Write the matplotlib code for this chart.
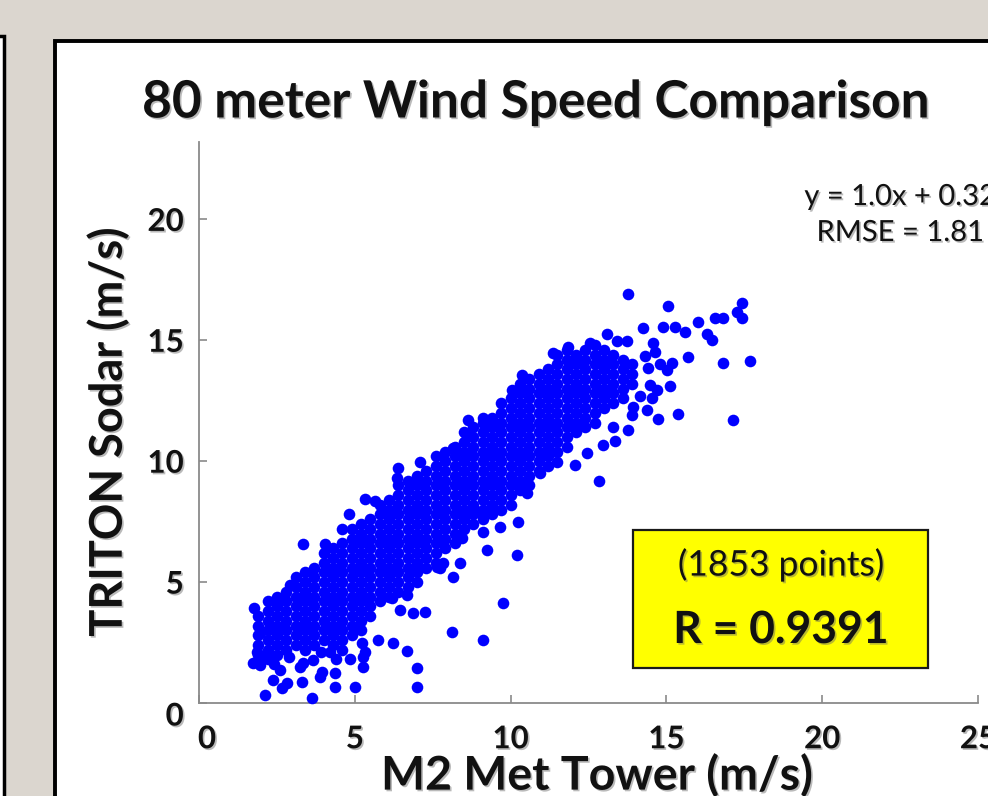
import matplotlib
matplotlib.use("Agg")
import matplotlib.pyplot as plt
from matplotlib.patches import Rectangle
import matplotlib.patheffects as pe
import matplotlib.transforms as mtransforms

plt.rcParams['font.family'] = ['Lato', 'DejaVu Sans']

# ---------------- data ----------------
title_text = "80 meter Wind Speed Comparison"
x_label = "M2 Met Tower (m/s)"
y_label = "TRITON Sodar (m/s)"
x_ticks = [0, 5, 10, 15, 20, 25]
y_ticks = [0, 5, 10, 15, 20]
fit_slope = 1.0
fit_intercept = 0.32
rmse = 1.81
n_points = 1853
r_value = 0.9391

# dense core of the cloud: M2 value per column, TRITON values in that column
core_m2 = [1.9, 2.2, 2.5, 2.8, 3.1, 3.4, 3.7, 4.0, 4.3, 4.6, 4.9, 5.2, 5.5, 5.8,
           6.1, 6.4, 6.7, 7.0, 7.3, 7.6, 7.9, 8.2, 8.5, 8.8, 9.1, 9.4, 9.7, 10.0,
           10.3, 10.6, 10.9, 11.2, 11.5, 11.8, 12.1, 12.4, 12.7, 13.0, 13.3, 13.6, 13.9]
core_triton = [
    [2.0, 2.4, 2.8, 3.2, 3.6],
    [1.8, 2.2, 2.6, 3.0, 3.4, 3.8, 4.2],
    [2.0, 2.4, 2.8, 3.2, 3.6, 4.0, 4.4],
    [2.2, 2.6, 3.0, 3.4, 3.8, 4.2, 4.6],
    [2.4, 2.8, 3.2, 3.6, 4.0, 4.4, 4.8, 5.2],
    [2.2, 2.6, 3.0, 3.4, 3.8, 4.2, 4.6, 5.0, 5.4],
    [2.4, 2.8, 3.2, 3.6, 4.0, 4.4, 4.8, 5.2, 5.6],
    [2.6, 3.0, 3.4, 3.8, 4.2, 4.6, 5.0, 5.4, 5.8, 6.2],
    [2.4, 2.8, 3.2, 3.6, 4.0, 4.4, 4.8, 5.2, 5.6, 6.0, 6.4],
    [2.6, 3.0, 3.4, 3.8, 4.2, 4.6, 5.0, 5.4, 5.8, 6.2, 6.6],
    [2.8, 3.2, 3.6, 4.0, 4.4, 4.8, 5.2, 5.6, 6.0, 6.4, 6.8, 7.2],
    [3.0, 3.4, 3.8, 4.2, 4.6, 5.0, 5.4, 5.8, 6.2, 6.6, 7.0, 7.4],
    [3.6, 4.0, 4.4, 4.8, 5.2, 5.6, 6.0, 6.4, 6.8, 7.2, 7.6],
    [4.2, 4.6, 5.0, 5.4, 5.8, 6.2, 6.6, 7.0, 7.4, 7.8, 8.2],
    [4.4, 4.8, 5.2, 5.6, 6.0, 6.4, 6.8, 7.2, 7.6, 8.0, 8.4],
    [4.6, 5.0, 5.4, 5.8, 6.2, 6.6, 7.0, 7.4, 7.8, 8.2, 8.6, 9.0],
    [4.8, 5.2, 5.6, 6.0, 6.4, 6.8, 7.2, 7.6, 8.0, 8.4, 8.8, 9.2],
    [5.0, 5.4, 5.8, 6.2, 6.6, 7.0, 7.4, 7.8, 8.2, 8.6, 9.0, 9.4],
    [5.6, 6.0, 6.4, 6.8, 7.2, 7.6, 8.0, 8.4, 8.8, 9.2, 9.6],
    [5.8, 6.2, 6.6, 7.0, 7.4, 7.8, 8.2, 8.6, 9.0, 9.4, 9.8, 10.2],
    [6.4, 6.8, 7.2, 7.6, 8.0, 8.4, 8.8, 9.2, 9.6, 10.0, 10.4],
    [6.6, 7.0, 7.4, 7.8, 8.2, 8.6, 9.0, 9.4, 9.8, 10.2, 10.6],
    [7.2, 7.6, 8.0, 8.4, 8.8, 9.2, 9.6, 10.0, 10.4, 10.8, 11.2],
    [7.4, 7.8, 8.2, 8.6, 9.0, 9.4, 9.8, 10.2, 10.6, 11.0, 11.4],
    [7.6, 8.0, 8.4, 8.8, 9.2, 9.6, 10.0, 10.4, 10.8, 11.2, 11.6],
    [7.8, 8.2, 8.6, 9.0, 9.4, 9.8, 10.2, 10.6, 11.0, 11.4, 11.8],
    [8.0, 8.4, 8.8, 9.2, 9.6, 10.0, 10.4, 10.8, 11.2, 11.6, 12.0, 12.4],
    [8.2, 8.6, 9.0, 9.4, 9.8, 10.2, 10.6, 11.0, 11.4, 11.8, 12.2, 12.6],
    [8.8, 9.2, 9.6, 10.0, 10.4, 10.8, 11.2, 11.6, 12.0, 12.4, 12.8, 13.2],
    [9.0, 9.4, 9.8, 10.2, 10.6, 11.0, 11.4, 11.8, 12.2, 12.6, 13.0, 13.4],
    [9.6, 10.0, 10.4, 10.8, 11.2, 11.6, 12.0, 12.4, 12.8, 13.2, 13.6],
    [9.8, 10.2, 10.6, 11.0, 11.4, 11.8, 12.2, 12.6, 13.0, 13.4, 13.8],
    [10.4, 10.8, 11.2, 11.6, 12.0, 12.4, 12.8, 13.2, 13.6, 14.0, 14.4],
    [10.6, 11.0, 11.4, 11.8, 12.2, 12.6, 13.0, 13.4, 13.8, 14.2, 14.6],
    [11.2, 11.6, 12.0, 12.4, 12.8, 13.2, 13.6, 14.0, 14.4],
    [11.4, 11.8, 12.2, 12.6, 13.0, 13.4, 13.8, 14.2, 14.6],
    [11.6, 12.0, 12.4, 12.8, 13.2, 13.6, 14.0, 14.4, 14.8],
    [12.2, 12.6, 13.0, 13.4, 13.8, 14.2, 14.6],
    [12.4, 12.8, 13.2, 13.6, 14.0, 14.4],
    [12.6, 13.0, 13.4, 13.8, 14.2],
    [13.2, 13.6, 14.0],
]

# scattered points around the core
outer_m2 = [
    1.78, 1.96, 1.86, 1.73, 1.96, 2.12, 3.63, 2.37, 2.66, 2.82, 3.30, 3.88, 3.95,
    4.36, 4.36, 5.00, 5.26, 5.26, 5.33, 5.23, 5.74, 6.23, 6.68, 7.00, 7.00, 7.25,
    6.87, 6.45, 6.19, 6.68, 7.64, 8.12, 9.11, 7.73, 7.83, 8.15, 8.38, 9.11, 9.24,
    8.44, 9.66, 10.24, 10.20, 9.76, 10.53, 10.94, 11.49,
    2.90, 3.35, 3.65, 3.90, 4.20, 4.40, 4.60, 4.85, 2.60, 3.25, 2.40, 2.10,
    3.34, 4.04, 4.60, 4.80, 5.33, 5.65, 6.35, 6.40, 7.09, 8.15, 8.60, 8.63, 9.11,
    10.05, 10.37, 11.36, 11.84, 12.55, 2.92, 9.00, 9.34,
    13.77, 15.05, 17.43, 17.27, 17.43, 16.56, 16.82, 16.00, 14.90, 15.28, 15.60,
    14.25, 13.10, 13.40, 13.74, 14.57, 14.63, 16.30, 16.46, 14.31, 15.69, 16.82,
    17.68, 14.41, 14.80, 15.18, 15.02, 15.12, 14.47, 14.70, 14.15, 14.54, 13.93,
    13.90, 14.38, 14.73, 15.37, 17.14, 13.77, 13.29, 13.35, 12.97, 12.45, 12.07,
    12.84,
]
outer_triton = [
    3.93, 2.90, 2.11, 1.66, 1.57, 0.33, 0.21, 0.95, 0.62, 0.83, 0.87, 1.08, 1.28,
    1.24, 0.66, 0.66, 1.49, 1.90, 2.11, 2.48, 2.60, 2.48, 2.15, 1.45, 0.66, 3.77,
    3.73, 3.85, 4.35, 4.47, 5.63, 2.94, 2.60, 5.59, 5.80, 5.22, 5.80, 7.08, 6.34,
    6.83, 7.29, 7.50, 6.13, 4.14, 8.70, 9.52, 9.98,
    1.90, 1.65, 1.78, 2.10, 2.10, 1.80, 2.20, 1.80, 1.37, 1.50, 1.60, 1.90,
    6.58, 6.58, 7.20, 7.80, 8.45, 8.36, 9.30, 9.70, 9.98, 10.56, 11.10, 11.70, 11.80,
    12.96, 13.58, 14.49, 14.74, 14.90, 4.89, 7.90, 8.00,
    16.90, 16.40, 16.56, 16.19, 15.94, 15.94, 15.94, 15.74, 15.53, 15.57, 15.36,
    15.49, 15.24, 14.95, 14.95, 14.90, 14.53, 15.24, 15.03, 14.33, 14.29, 14.08,
    14.16, 13.87, 14.00, 14.08, 13.79, 13.13, 13.17, 12.96, 12.71, 12.63, 12.26,
    11.93, 12.13, 11.76, 11.97, 11.72, 11.30, 11.43, 10.85, 10.68, 10.35, 9.86,
    9.19,
]

# ---------------- layout ----------------
W, H = 988, 796
fig = plt.figure(figsize=(W / 100, H / 100), dpi=100, facecolor='#dbd6cf')


def fx(px):
    return px / W


def fy(py):
    return 1 - py / H


shadow = [pe.withSimplePatchShadow(offset=(1.2, -1.2), shadow_rgbFace='#666666', alpha=0.45)]

# left (partially visible) panel and the main white panel
fig.patches.append(Rectangle((fx(-30), fy(840)), 34 / W, (840 - 36) / H,
                             transform=fig.transFigure, facecolor='white',
                             edgecolor='black', linewidth=2.5, zorder=-2))
fig.patches.append(Rectangle((fx(55), fy(840)), (1040 - 55) / W, (840 - 41) / H,
                             transform=fig.transFigure, facecolor='white',
                             edgecolor='black', linewidth=2.8, zorder=-2))

ax = fig.add_axes([fx(199), fy(703), (978 - 199) / W, (703 - 142) / H])
ax.set_zorder(1)
ax.patch.set_alpha(0)
ax.set_xlim(0, 25)
ax.set_ylim(0, 23.2)

xs, ys = [], []
for xv, col in zip(core_m2, core_triton):
    for yv in col:
        xs.append(xv)
        ys.append(yv)
xs += outer_m2
ys += outer_triton
ax.scatter(xs, ys, s=70, c='#0000FF', linewidths=0, zorder=3, clip_on=False)

for side in ('top', 'right'):
    ax.spines[side].set_visible(False)
for side in ('left', 'bottom'):
    ax.spines[side].set_color('#8a8a8a')
    ax.spines[side].set_linewidth(1.3)

ax.set_xticks(x_ticks)
ax.set_yticks(y_ticks)
ax.set_xticklabels([str(v) for v in x_ticks])
ax.set_yticklabels([str(v) for v in y_ticks])
ax.tick_params(direction='in', length=6, width=1.2, color='#8a8a8a', labelsize=22.5)
ax.tick_params(axis='x', pad=16)
ax.tick_params(axis='y', pad=11)
for lbl in ax.get_xticklabels() + ax.get_yticklabels():
    lbl.set_fontweight('bold')
    lbl.set_color('#111111')
    lbl.set_path_effects(shadow)

# Excel-like offsets of the two zero labels
xl0 = ax.get_xticklabels()[0]
xl0.set_transform(xl0.get_transform() + mtransforms.ScaledTranslation(8 / 100, 0, fig.dpi_scale_trans))
yl0 = ax.get_yticklabels()[0]
yl0.set_transform(yl0.get_transform() + mtransforms.ScaledTranslation(0, -11 / 100, fig.dpi_scale_trans))

fig.text(fx(536), fy(103), title_text, ha='center', va='center', fontsize=37,
         fontweight='bold', color='#111111', path_effects=shadow)
fig.text(fx(108), fy(432), y_label, ha='center', va='center', rotation=90,
         fontsize=32.5, fontweight='bold', color='#111111', path_effects=shadow)
fig.text(fx(597), fy(775), x_label, ha='center', va='center', fontsize=33.5,
         fontweight='bold', color='#111111', path_effects=shadow)

fig.text(fx(900), fy(197), f"y = {fit_slope:.1f}x + {fit_intercept:.2f}", ha='center',
         va='center', fontsize=21, color='#111111', path_effects=shadow)
fig.text(fx(900), fy(233), f"RMSE = {rmse:.2f}", ha='center', va='center',
         fontsize=21, color='#111111', path_effects=shadow)

fig.patches.append(Rectangle((fx(633), fy(668)), (928 - 633) / W, (668 - 530) / H,
                             transform=fig.transFigure, facecolor='#FFFF00',
                             edgecolor='#1a1a1a', linewidth=1.6, zorder=5))
fig.text(fx(781), fy(565), f"({n_points} points)", ha='center', va='center',
         fontsize=25.5, color='#111111', path_effects=shadow, zorder=6)
fig.text(fx(781), fy(630), f"R = {r_value:.4f}", ha='center', va='center',
         fontsize=32, fontweight='bold', color='#111111', path_effects=shadow, zorder=6)

fig.savefig('out.png', dpi=100, facecolor=fig.get_facecolor())
